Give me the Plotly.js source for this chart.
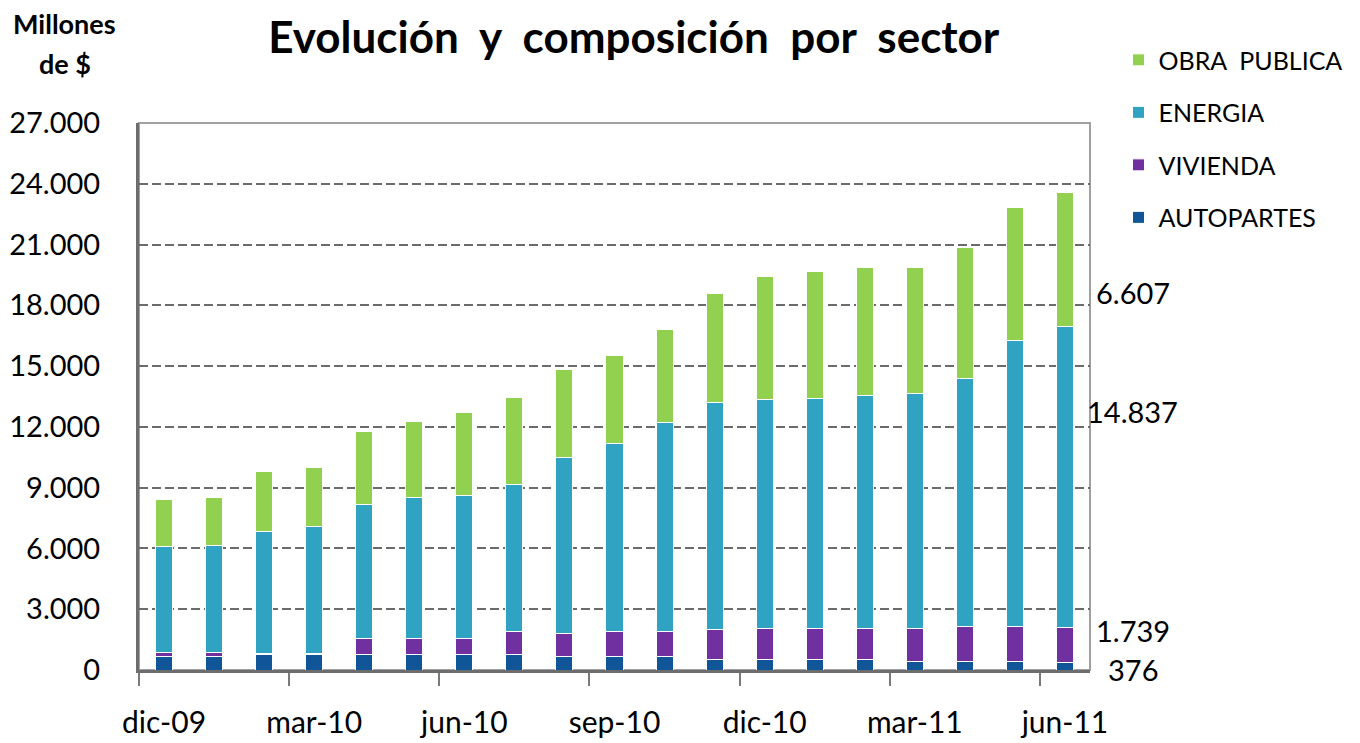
<!DOCTYPE html>
<html>
<head>
<meta charset="utf-8">
<script src="https://cdn.plot.ly/plotly-3.0.1.min.js"></script>
<style>
  body { margin: 0; background: #fff; }
  #graph { width: 1360px; height: 743px; }
</style>
</head>
<body>
<div id="graph"></div>
<script>
var months = ['dic-09', 'ene-10', 'feb-10', 'mar-10', 'abr-10', 'may-10', 'jun-10', 'jul-10', 'ago-10', 'sep-10',
  'oct-10', 'nov-10', 'dic-10', 'ene-11', 'feb-11', 'mar-11', 'abr-11', 'may-11', 'jun-11']
var tickMonths = ['dic-09', 'mar-10', 'jun-10', 'sep-10', 'dic-10', 'mar-11', 'jun-11']

// millones de $
var autopartes = [650, 650, 760, 760, 750, 750, 750, 750, 650, 650, 650, 520, 520, 520, 520, 400, 400, 400, 376]
var vivienda = [220, 220, 60, 60, 820, 800, 800, 1130, 1130, 1230, 1230, 1490, 1510, 1510, 1510, 1630, 1730, 1730, 1739]
var energia = [5210, 5260, 6010, 6250, 6600, 6950, 7050, 7300, 8700, 9300, 10340, 11170, 11300, 11380, 11500, 11640, 12240, 14110, 14837]
var obraPublica = [2340, 2370, 2960, 2940, 3620, 3750, 4120, 4250, 4360, 4360, 4610, 5390, 6080, 6250, 6360, 6220, 6480, 6590, 6607]

var font = 'Lato, "Open Sans", sans-serif'
var idx = months.map(function (m, i) { return i })

function fmt (v) {
  return v.toString().replace(/\B(?=(\d{3})+(?!\d))/g, '.')
}

function serie (name, values, color, rank) {
  return {
    type: 'bar',
    name: name,
    legendgroup: name,
    legendrank: rank,
    x: idx,
    y: values,
    customdata: months,
    width: 0.34,
    marker: { color: color, line: { color: '#ffffff', width: 1 } },
    hovertemplate: '%{customdata}: %{y:,d}<extra>' + name + '</extra>'
  }
}

var data = [
  serie('AUTOPARTES', autopartes, '#0f5598', 4),
  serie('VIVIENDA', vivienda, '#7030a0', 3),
  serie('ENERGIA', energia, '#2fa3c1', 2),
  serie('OBRA  PUBLICA', obraPublica, '#92d050', 1)
]

var last = months.length - 1
var labelY = [18620, 12750, 1950, 40]
var labelVals = [obraPublica[last], energia[last], vivienda[last], autopartes[last]]

var annotations = labelVals.map(function (v, i) {
  return {
    xref: 'paper', yref: 'y', x: 1.045, y: labelY[i],
    text: fmt(v), showarrow: false, xanchor: 'center', yanchor: 'middle',
    font: { family: font, size: 29, color: '#000' }
  }
})
annotations.push({
  xref: 'paper', yref: 'paper', x: -0.078, y: 1.181,
  text: '<b>Millones</b>', showarrow: false, xanchor: 'center', yanchor: 'middle',
  font: { family: font, size: 27, color: '#000' }
})
annotations.push({
  xref: 'paper', yref: 'paper', x: -0.078, y: 1.108,
  text: '<b>de $</b>', showarrow: false, xanchor: 'center', yanchor: 'middle',
  font: { family: font, size: 27, color: '#000' }
})

var layout = {
  width: 1360,
  height: 743,
  margin: { l: 139, r: 267, t: 123, b: 73 },
  paper_bgcolor: '#fff',
  plot_bgcolor: '#fff',
  separators: ',.',
  barmode: 'stack',
  bargap: 0.66,
  font: { family: font, color: '#000' },
  title: {
    text: '<b>Evolución  y  composición  por  sector</b>',
    xref: 'container', x: 0.466, xanchor: 'center',
    yref: 'container', y: 0.95, yanchor: 'middle',
    font: { family: font, size: 44, color: '#000' }
  },
  xaxis: {
    range: [-0.5, 18.5],
    tickmode: 'array',
    tickvals: tickMonths.map(function (m) { return months.indexOf(m) }),
    ticktext: tickMonths,
    ticks: '',
    ticklabelstandoff: 24,
    tickfont: { family: font, size: 30, color: '#000' },
    minor: {
      tickmode: 'array',
      tickvals: tickMonths.map(function (m) { return months.indexOf(m) - 0.5 }),
      ticks: 'outside',
      ticklen: 13,
      tickwidth: 2,
      tickcolor: '#7a7a7a',
      showgrid: false
    },
    showgrid: false,
    zeroline: false,
    showline: true,
    linecolor: '#6d6d6d',
    linewidth: 3,
    fixedrange: true
  },
  yaxis: {
    range: [0, 27000],
    tick0: 0,
    dtick: 3000,
    tickformat: ',d',
    ticks: '',
    ticklabelstandoff: 30,
    tickfont: { family: font, size: 29, color: '#000' },
    showgrid: true,
    gridcolor: '#6b6b6b',
    gridwidth: 2,
    griddash: '9px,4px',
    zeroline: false,
    showline: true,
    linecolor: '#6d6d6d',
    linewidth: 3,
    fixedrange: true
  },
  shapes: [{
    type: 'rect', xref: 'x domain', yref: 'y domain',
    x0: 0, x1: 1, y0: 0, y1: 1,
    line: { color: '#a0a0a0', width: 2 },
    layer: 'below'
  }],
  legend: {
    x: 1.03, xanchor: 'left',
    y: 1.157, yanchor: 'top',
    traceorder: 'grouped',
    tracegroupgap: 17,
    font: { family: font, size: 25, color: '#000' },
    bgcolor: 'rgba(0,0,0,0)'
  },
  annotations: annotations,
  showlegend: true
}

Plotly.newPlot('graph', data, layout, { displayModeBar: false, staticPlot: true })
</script>
</body>
</html>
